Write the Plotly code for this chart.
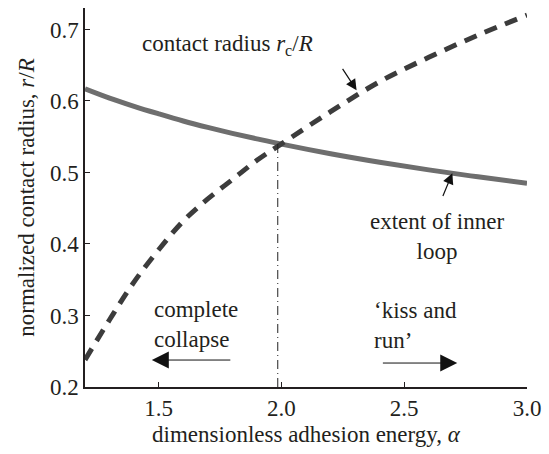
import plotly.graph_objects as go

alpha = [1.2, 1.3, 1.4, 1.5, 1.6, 1.7, 1.8, 1.9, 2.0, 2.2, 2.4, 2.6, 2.8, 3.0]
contact_radius = [0.238, 0.294, 0.347, 0.392, 0.432, 0.463, 0.490, 0.517, 0.540, 0.585, 0.627, 0.661, 0.692, 0.720]
inner_loop = [0.617, 0.604, 0.5925, 0.582, 0.572, 0.563, 0.5547, 0.547, 0.5396, 0.5262, 0.5143, 0.5036, 0.4939, 0.485]
crossing_alpha = 1.985
crossing_r = 0.54

FONT = "Liberation Serif, Times New Roman, serif"
TXT = "#231f20"
FS = 23

fig = go.Figure()
fig.add_trace(go.Scatter(x=alpha, y=inner_loop, mode="lines", line=dict(color="#6e6e6e", width=5, shape="spline"), showlegend=False))
fig.add_trace(go.Scatter(x=alpha, y=contact_radius, mode="lines", line=dict(color="#3c3c3c", width=5, dash="13px,9px", shape="spline"), showlegend=False))
fig.add_trace(go.Scatter(x=[crossing_alpha, crossing_alpha], y=[0.2, crossing_r], mode="lines", line=dict(color="#222222", width=1, dash="9px,4px,1px,4px"), showlegend=False))

ann = []
ann.append(dict(x=1.424, y=0.678, xref="x", yref="y", text="contact radius <i>r</i><sub>c</sub>/<i>R</i>", showarrow=False, xanchor="left", font=dict(size=FS, family=FONT, color=TXT)))
ann.append(dict(x=2.306, y=0.615, ax=2.245, ay=0.647, xref="x", yref="y", axref="x", ayref="y", text="", showarrow=True, arrowhead=2, arrowsize=1.8, arrowwidth=1.2, arrowcolor="#111111", standoff=0))
ann.append(dict(x=2.635, y=0.411, xref="x", yref="y", text="extent of inner<br>loop", showarrow=False, align="center", font=dict(size=FS, family=FONT, color=TXT)))
ann.append(dict(x=2.696, y=0.499, ax=2.655, ay=0.465, xref="x", yref="y", axref="x", ayref="y", text="", showarrow=True, arrowhead=2, arrowsize=1.8, arrowwidth=1.2, arrowcolor="#111111", standoff=0))
ann.append(dict(x=1.472, y=0.288, xref="x", yref="y", text="complete<br>collapse", showarrow=False, xanchor="left", align="left", font=dict(size=FS, family=FONT, color=TXT)))
ann.append(dict(x=1.472, y=0.2377, ax=1.798, ay=0.2377, xref="x", yref="y", axref="x", ayref="y", text="", showarrow=True, arrowhead=2, arrowsize=3.4, arrowwidth=1, arrowcolor="#111111", standoff=0))
ann.append(dict(x=2.367, y=0.286, xref="x", yref="y", text="‘kiss and<br>run’", showarrow=False, xanchor="left", align="left", font=dict(size=FS, family=FONT, color=TXT)))
ann.append(dict(x=2.716, y=0.2335, ax=2.407, ay=0.2335, xref="x", yref="y", axref="x", ayref="y", text="", showarrow=True, arrowhead=2, arrowsize=3.4, arrowwidth=1, arrowcolor="#111111", standoff=0))

fig.update_layout(
    width=549, height=454,
    margin=dict(l=85, r=22, t=8, b=67),
    paper_bgcolor="white", plot_bgcolor="white",
    font=dict(family=FONT, size=FS, color=TXT),
    annotations=ann,
    xaxis=dict(range=[1.2, 3.0], tickvals=[1.5, 2.0, 2.5, 3.0], ticktext=["1.5", "2.0", "2.5", "3.0"],
               showline=True, linecolor="#231f20", linewidth=1.5, ticks="inside", ticklen=5, tickcolor="#231f20",
               showgrid=False, zeroline=False, tickfont=dict(size=FS, family=FONT, color=TXT),
               title=dict(text="dimensionless adhesion energy, <i>α</i>", font=dict(size=FS, family=FONT, color=TXT), standoff=6)),
    yaxis=dict(range=[0.2, 0.73], tickvals=[0.2, 0.3, 0.4, 0.5, 0.6, 0.7], ticktext=["0.2", "0.3", "0.4", "0.5", "0.6", "0.7"],
               showline=True, linecolor="#231f20", linewidth=1.5, ticks="inside", ticklen=5, tickcolor="#231f20",
               showgrid=False, zeroline=False, tickfont=dict(size=FS, family=FONT, color=TXT),
               title=dict(text="normalized contact radius, <i>r</i>/<i>R</i>", font=dict(size=FS, family=FONT, color=TXT), standoff=9)),
)

fig.write_html("out.html", config={"displayModeBar": False}, post_script="document.body.style.margin='0';")
